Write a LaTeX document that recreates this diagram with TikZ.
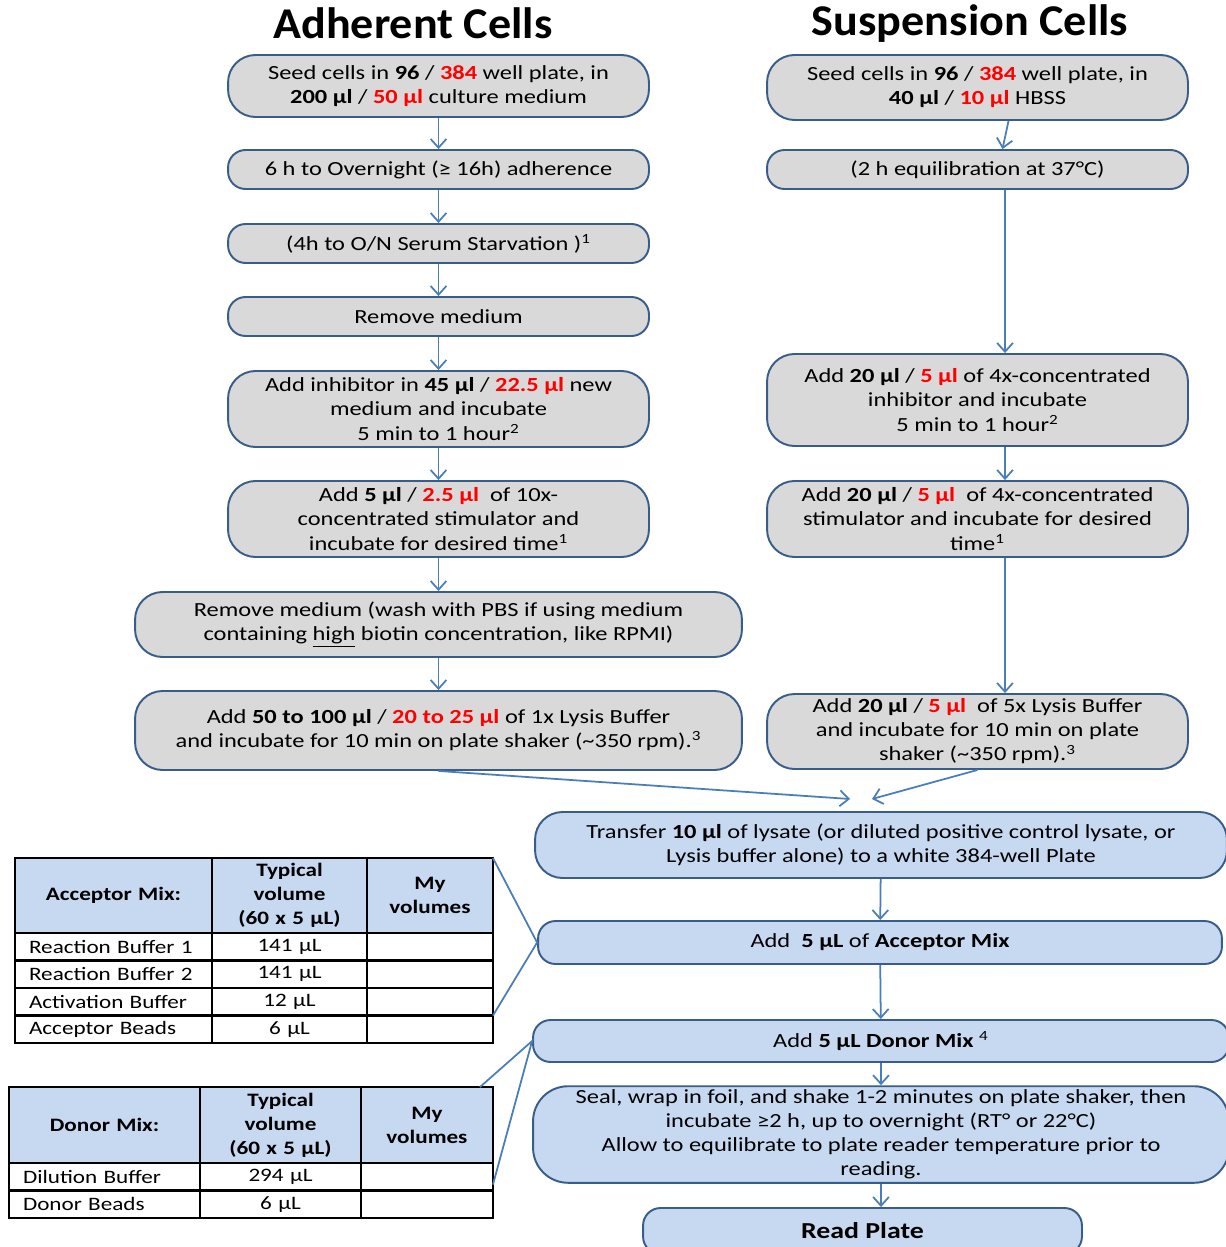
\documentclass[tikz,border=0pt]{standalone}
\usepackage{fontspec}
\setmainfont{Carlito}[FakeStretch=1.22]
\newfontfamily\titlefont{Carlito}[FakeStretch=1.05]
\usetikzlibrary{arrows.meta,matrix}

\definecolor{boxgray}{HTML}{D9D9D9}
\definecolor{boxline}{HTML}{385D8A}
\definecolor{boxblue}{HTML}{C6D9F1}
\definecolor{arrowblue}{HTML}{4A7EBB}

\newcommand{\rd}[1]{\textcolor{red}{\textbf{#1}}}
\newcommand{\bodyfont}{\fontsize{11.4}{13.7}\selectfont}
\newcommand{\tblfont}{\fontsize{10.8}{13.7}\selectfont}

\begin{document}
\begin{tikzpicture}[x=0.02cm, y=-0.02cm,
        every node/.style={font=\bodyfont, inner sep=2pt},
        graybox/.style={draw=boxline, line width=1.1pt, fill=boxgray, align=center, rounded corners=0.35cm},
        bluebox/.style={draw=boxline, line width=1.1pt, fill=boxblue, align=center, rounded corners=0.35cm},
        roundbig/.style={rounded corners=0.55cm},
        flow/.style={draw=arrowblue, line width=1pt, -{Straight Barb[length=5pt,width=9pt]}},
        link/.style={draw=arrowblue, line width=1pt},
        tbl/.style={matrix of nodes, nodes in empty cells, inner sep=0pt, outer sep=0pt,
            column sep=-1.2pt, row sep=-1.2pt, anchor=north west,
            nodes={draw=black, line width=1.2pt, inner sep=0pt, outer sep=0pt, anchor=center,
                font=\tblfont, minimum height=0.55cm, align=center},
            row 1/.style={nodes={fill=boxblue, font=\tblfont\bfseries, align=center}}}]
        \fill[white] (0,0) rectangle (1225,1247);
        \useasboundingbox (0,0) rectangle (1225,1247);

        % Titles
        \node[font=\titlefont\fontsize{25}{30}\selectfont\bfseries] (tadh) at (413,23) {Adherent Cells};
        \node[font=\titlefont\fontsize{25}{30}\selectfont\bfseries] (tsus) at (970,24) {Suspension Cells};

        % Adherent cells
        \node[graybox, minimum width=8.42cm, minimum height=1.24cm, roundbig] (l1) at (438.5,86)
            {Seed cells in \textbf{96} / \rd{384} well plate, in\\ \textbf{200 µl} / \rd{50 µl} culture medium};
        \node[graybox, minimum width=8.42cm, minimum height=0.78cm] (l2) at (438.5,169.5)
            {6 h to Overnight (≥ 16h) adherence};
        \node[graybox, minimum width=8.42cm, minimum height=0.78cm] (l3) at (438.5,243.5)
            {(4h to O/N Serum Starvation )\textsuperscript{1}};
        \node[graybox, minimum width=8.42cm, minimum height=0.78cm] (l4) at (438.5,316.5)
            {Remove medium};
        \node[graybox, minimum width=8.42cm, minimum height=1.52cm, roundbig] (l5) at (438.5,409)
            {Add inhibitor in \textbf{45 µl} / \rd{22.5 µl} new\\ medium and incubate\\ 5 min to 1 hour\textsuperscript{2}};
        \node[graybox, minimum width=8.42cm, minimum height=1.52cm, roundbig] (l6) at (438.5,519)
            {Add \textbf{5 µl} / \rd{2.5 µl} \ of 10x-\\ concentrated stimulator and\\ incubate for desired time\textsuperscript{1}};
        \node[graybox, minimum width=12.14cm, minimum height=1.30cm, roundbig] (l7) at (438.5,624.5)
            {Remove medium (wash with PBS if using medium\\ containing \underline{high} biotin concentration, like RPMI)};
        \node[graybox, minimum width=12.14cm, minimum height=1.58cm, roundbig] (l8) at (438.5,730.5)
            {Add \textbf{50 to 100 µl} / \rd{20 to 25 µl} of 1x Lysis Buffer\\ and incubate for 10 min on plate shaker (\textasciitilde 350 rpm).\textsuperscript{3}};

        % Suspension cells
        \node[graybox, minimum width=8.42cm, minimum height=1.30cm, roundbig] (r1) at (977.5,87.5)
            {Seed cells in \textbf{96} / \rd{384} well plate, in\\ \textbf{40 µl} / \rd{10 µl} HBSS};
        \node[graybox, minimum width=8.42cm, minimum height=0.78cm] (r2) at (977.5,169.5)
            {(2 h equilibration at 37°C)};
        \node[graybox, minimum width=8.42cm, minimum height=1.84cm, roundbig] (r3) at (977.5,400)
            {Add \textbf{20 µl} / \rd{5 µl} of 4x-concentrated\\ inhibitor and incubate\\ 5 min to 1 hour\textsuperscript{2}};
        \node[graybox, minimum width=8.42cm, minimum height=1.52cm, roundbig] (r4) at (977.5,519)
            {Add \textbf{20 µl} / \rd{5 µl} \ of 4x-concentrated\\ stimulator and incubate for desired\\ time\textsuperscript{1}};
        \node[graybox, minimum width=8.42cm, minimum height=1.50cm, roundbig] (r5) at (977.5,731.5)
            {Add \textbf{20 µl} / \rd{5 µl} \ of 5x Lysis Buffer\\ and incubate for 10 min on plate\\ shaker (\textasciitilde 350 rpm).\textsuperscript{3}};

        % Common steps
        \node[bluebox, minimum width=13.84cm, minimum height=1.32cm, roundbig] (b1) at (881,845)
            {Transfer \textbf{10 µl} of lysate (or diluted positive control lysate, or\\ Lysis buffer alone) to a white 384-well Plate};
        \node[bluebox, minimum width=13.68cm, minimum height=0.86cm] (b2) at (880,942.5)
            {Add \ \textbf{5 µL} of \textbf{Acceptor Mix}};
        \node[bluebox, minimum width=13.92cm, minimum height=0.84cm] (b3) at (881,1041)
            {Add \textbf{5 µL Donor Mix} \textsuperscript{4}};
        \node[bluebox, minimum width=13.92cm, minimum height=1.82cm, rounded corners=0.7cm] (b4) at (881,1134.5)
            {Seal, wrap in foil, and shake 1-2 minutes on plate shaker, then\\ incubate ≥2 h, up to overnight (RT° or 22°C)\\ Allow to equilibrate to plate reader temperature prior to\\ reading.};
        \node[bluebox, minimum width=8.78cm, minimum height=0.92cm, font=\fontsize{13}{16}\selectfont] (b5) at (862.5,1231)
            {\textbf{Read Plate}};

        % Mix tables
        \matrix (acc) [tbl,
            column 1/.style={nodes={text width=3.38cm, inner xsep=0.28cm, align=left}},
            column 2/.style={nodes={text width=3.10cm}},
            column 3/.style={nodes={text width=2.52cm}},
            row 1/.append style={nodes={minimum height=1.50cm}}] at (14,857) {
            Acceptor Mix: & {Typical\\volume\\(60 x 5 µL)} & {My\\volumes} \\
            Reaction Buffer 1 & 141 µL & \\
            Reaction Buffer 2 & 141 µL & \\
            Activation Buffer & 12 µL & \\
            Acceptor Beads & 6 µL & \\
        };
        \matrix (don) [tbl,
            column 1/.style={nodes={text width=3.26cm, inner xsep=0.28cm, align=left}},
            column 2/.style={nodes={text width=3.22cm}},
            column 3/.style={nodes={text width=2.64cm}},
            row 1/.append style={nodes={minimum height=1.52cm}}] at (8,1086) {
            Donor Mix: & {Typical\\volume\\(60 x 5 µL)} & {My\\volumes} \\
            Dilution Buffer & 294 µL & \\
            Donor Beads & 6 µL & \\
        };

        % Arrows
        \foreach \i/\j in {1/2, 2/3, 3/4, 4/5, 5/6, 6/7, 7/8} {
            \draw[flow] (l\i) -- (l\j);
        }
        \draw[flow] ([xshift=0.62cm]r1.south) -- ([xshift=0.5cm]r2.north);
        \foreach \i/\j in {2/3, 3/4, 4/5} {
            \draw[flow] ([xshift=0.55cm]r\i.south) -- ([xshift=0.55cm]r\j.north);
        }
        \coordinate (inl) at (850,799);
        \coordinate (inr) at (872,799);
        \draw[flow] (l8.south) -- (inl);
        \draw[flow] (r5.south) -- (inr);
        \foreach \i/\j in {1/2, 2/3, 3/4} {
            \draw[flow] (b\i) -- (b\j);
        }
        \draw[flow] (b4.south) -- (b4.south |- b5.north);

        % Table links
        \draw[link] (acc-1-3.north east) -- (b2.west) -- (acc-4-3.south east);
        \draw[link] ([xshift=-0.26cm]don-1-3.north east) -- (b3.west) -- ([yshift=0.12cm]don-2-3.south east);
\end{tikzpicture}
\end{document}
